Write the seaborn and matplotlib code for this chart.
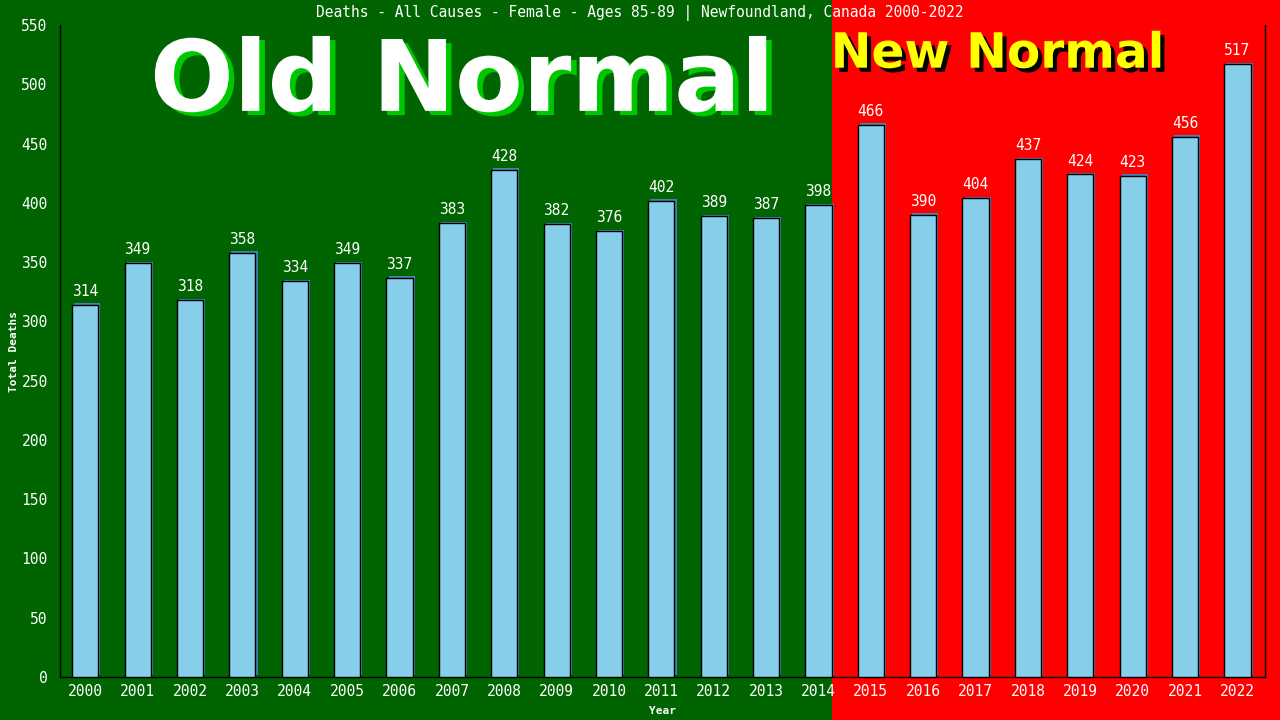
import pandas as pd
import seaborn as sns
import matplotlib.pyplot as plt
import matplotlib.patheffects as pe
from matplotlib import transforms
from matplotlib.patches import Rectangle


years = [str(y) for y in range(2000, 2023)]
deaths = [314, 349, 318, 358, 334, 349, 337, 383, 428, 382, 376, 402,
          389, 387, 398, 466, 390, 404, 437, 424, 423, 456, 517]
yticks = list(range(0, 551, 50))
split_year = "2014"

GREEN = "#006400"
RED = "#ff0000"
MONO = "DejaVu Sans Mono"


def main():
    df = pd.DataFrame({"Year": years, "Deaths": deaths})

    sns.set_style("white")
    fig = plt.figure(figsize=(12.8, 7.2), dpi=100)
    fig.patch.set_facecolor(GREEN)
    ax = fig.add_axes([0.047, 0.06, 0.941, 0.905])
    ax.set_facecolor("none")

    sns.barplot(data=df, x="Year", y="Deaths", color="#87ceeb",
                saturation=1, width=0.5, edgecolor="black", linewidth=1,
                ax=ax, zorder=3)
    # thin blue shadow on the bars, like the original
    for bar in ax.patches:
        bar.set_path_effects([pe.SimplePatchShadow(offset=(1.5, 1),
                                                   shadow_rgbFace="#4682b4",
                                                   alpha=1),
                              pe.Normal()])

    ax.set_xlim(-0.48, len(years) - 0.48)
    ax.set_ylim(0, 550)
    ax.set_yticks(yticks)

    # red background from the right edge of the split-year bar onwards
    split_x = years.index(split_year) + 0.25
    trans = transforms.blended_transform_factory(ax.transData, fig.transFigure)
    fig.patches.append(Rectangle((split_x, 0), 100, 1, transform=trans,
                                 facecolor=RED, edgecolor="none", zorder=-10))

    for i, v in enumerate(deaths):
        ax.text(i, v + 5, str(v), ha="center", va="bottom", color="white",
                fontsize=10.5, family=MONO, zorder=4)

    for side in ["left", "bottom", "right"]:
        ax.spines[side].set_color("black")
        ax.spines[side].set_linewidth(1)
    ax.spines["top"].set_visible(False)
    ax.tick_params(axis="both", colors="black", labelcolor="white",
                   length=5, direction="out", labelsize=10.5)
    ax.tick_params(axis="x", length=0, pad=5)
    ax.tick_params(axis="y", pad=4)
    for lab in ax.get_xticklabels() + ax.get_yticklabels():
        lab.set_family(MONO)

    ax.set_xlabel("Year", color="white", fontsize=8, family=MONO,
                  fontweight="bold", labelpad=5)
    ax.set_ylabel("Total Deaths", color="white", fontsize=8, family=MONO,
                  fontweight="bold", labelpad=2)

    fig.text(0.5, 0.982, "Deaths - All Causes - Female - Ages 85-89 | "
             "Newfoundland, Canada 2000-2022", ha="center", va="center",
             color="white", fontsize=10.5, family=MONO)

    fig.text(0.361, 0.846, "Old Normal", ha="center", va="baseline",
             color="white", fontsize=71, fontweight="bold",
             family="DejaVu Sans",
             path_effects=[pe.SimplePatchShadow(offset=(4, -3),
                                                shadow_rgbFace="#00c800",
                                                alpha=1),
                           pe.Normal()])
    fig.text(0.649, 0.906, "New Normal", ha="left", va="baseline",
             color="#ffff00", fontsize=35, fontweight="bold",
             family="DejaVu Sans",
             path_effects=[pe.SimplePatchShadow(offset=(3, -3),
                                                shadow_rgbFace="black",
                                                alpha=1),
                           pe.Normal()])

    fig.savefig("out.png", dpi=100, facecolor=fig.get_facecolor())


if __name__ == "__main__":
    main()
